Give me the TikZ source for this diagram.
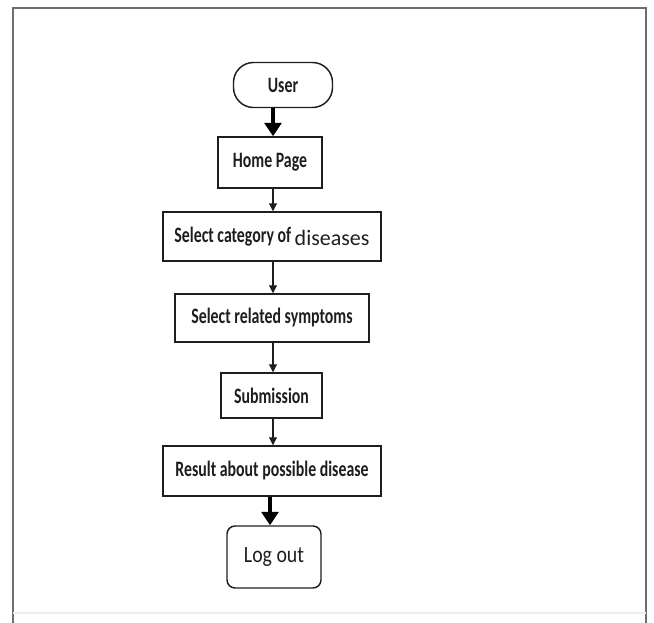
\documentclass[tikz,border=0pt]{standalone}
\usepackage{fontspec}
\usepackage{graphicx}
\usetikzlibrary{arrows.meta}
\newfontfamily\lblfont[FakeStretch=0.72]{Carlito}
\newfontfamily\disfont{Carlito}
\newfontfamily\logfont[FakeStretch=0.85]{Carlito}
\definecolor{ink}{HTML}{1E1E1E}
\definecolor{framec}{HTML}{6E6E6E}
\tikzset{
  px/.style={x=0.75pt,y=-0.75pt},
  boxnode/.style={draw=ink, line width=1.1pt, rectangle, inner sep=0pt, text=ink,
    font=\lblfont\bfseries\fontsize{16.5}{18}\selectfont},
  termnode/.style={boxnode, rounded corners=15pt},
  endnode/.style={draw=ink, line width=1.1pt, rectangle, rounded corners=6pt, inner sep=0pt, text=ink,
    font=\logfont\fontsize{17.5}{19}\selectfont},
  thinarrow/.style={draw=ink, line width=0.8pt, -{Triangle[length=6pt,width=6pt]}},
  thickarrow/.style={draw=black, line width=3.4pt, -{Triangle[length=10pt,width=12.5pt]}},
}
\begin{document}
\begin{tikzpicture}[px]
\useasboundingbox (0,0) rectangle (654,623);
% frame
\draw[framec, line width=1.5pt] (13,623) -- (13,8) -- (646,8) -- (646,623);
\draw[black!7, line width=1pt] (13,613) -- (646,613);
% nodes
\node[termnode, minimum width=74.25pt, minimum height=33.75pt] (user) at (283,85) {User};
\node[boxnode, minimum width=78pt, minimum height=38.25pt] (home) at (270,162.5) {Home Page};
\node[boxnode, minimum width=163.5pt, minimum height=36.75pt] (cat) at (272,236.5)
  {Select category of\ \raisebox{-2.5pt}{\disfont\mdseries\fontsize{16.5}{18}\selectfont diseases}};
\node[boxnode, minimum width=145.5pt, minimum height=36pt] (sym) at (272,318) {Select related symptoms};
\node[boxnode, minimum width=75.75pt, minimum height=33.75pt] (sub) at (271.5,395.5) {Submission};
\node[boxnode, minimum width=163.5pt, minimum height=37.5pt] (res) at (272,471) {Result about possible disease};
\node[endnode, minimum width=70.5pt, minimum height=46.5pt] (out) at (274,557) {Log out};
% connectors
\coordinate (u1) at (273,0);
\draw[thickarrow] (user.south -| u1) -- (home.north -| u1);
\draw[thinarrow] (home.south -| u1) -- (cat.north -| u1);
\draw[thinarrow] (cat.south -| u1) -- (sym.north -| u1);
\draw[thinarrow] (sym.south -| u1) -- (sub.north -| u1);
\draw[thinarrow] (sub.south -| u1) -- (res.north -| u1);
\coordinate (u2) at (270,0);
\draw[thickarrow] (res.south -| u2) -- (out.north -| u2);
\end{tikzpicture}
\end{document}
